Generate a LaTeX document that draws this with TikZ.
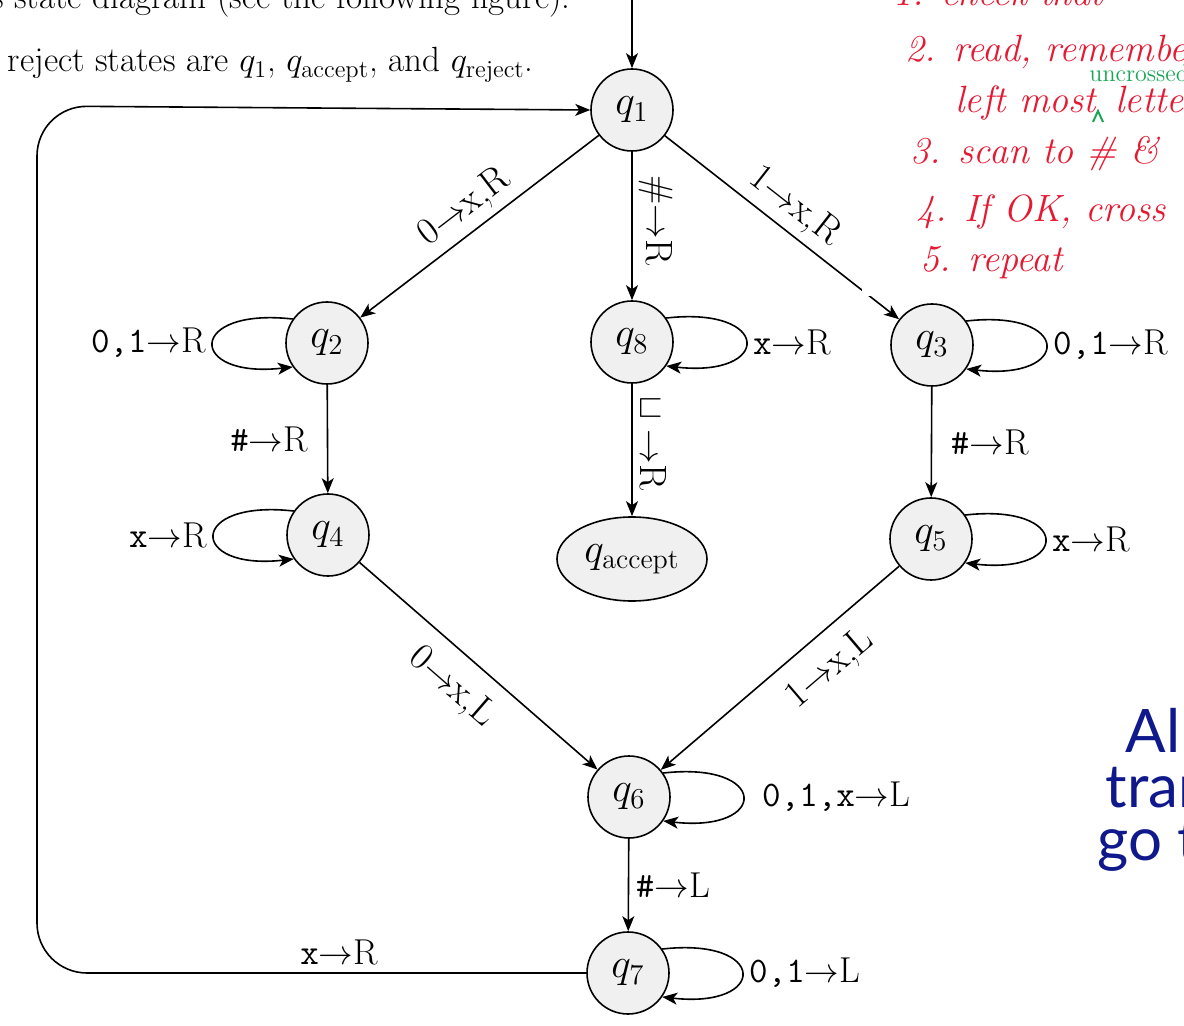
\documentclass[tikz,border=0pt]{standalone}
\usepackage{fontspec}
\newfontfamily\slidefont{Lato}
\usetikzlibrary{arrows.meta,shapes.geometric}
\definecolor{penred}{RGB}{230,25,50}
\definecolor{pengreen}{RGB}{25,165,85}
\definecolor{slideblue}{RGB}{15,25,140}
\newcommand{\tlab}[2]{\texttt{#1}$\rightarrow$#2}

\begin{document}
\begin{tikzpicture}[x=0.5pt, y=-0.5pt, line width=0.8pt,
    >={Stealth[length=7.5pt,width=6pt,inset=2pt]},
    every node/.style={font=\fontsize{18}{21}\selectfont},
    state/.style={circle, draw, fill=gray!12, minimum size=41pt, inner sep=0pt,
      font=\fontsize{20}{22}\selectfont},
    slant/.style={sloped, font=\fontsize{19}{22}\selectfont},
    booktext/.style={anchor=base east, font=\fontsize{17.5}{20}\selectfont},
    note/.style={anchor=base west, text=penred, font=\fontsize{19}{22}\selectfont\itshape},
    slide/.style={anchor=base west, text=slideblue, font=\fontsize{30}{34}\slidefont}
]
\useasboundingbox (0,0) rectangle (1184,1026);
\def\lp{106}

% text of the book page
\node[booktext] (line1) at (578,9) {its state diagram (see the following figure).};
\node[booktext] (line2) at (541,72) {and reject states are $q_1$, $q_{\mathrm{accept}}$, and $q_{\mathrm{reject}}$.};

% states
\node[state] (q1) at (632,110) {$q_1$};
\node[state] (q2) at (327,343) {$q_2$};
\node[state] (q8) at (632,342) {$q_8$};
\node[state] (q3) at (932,345) {$q_3$};
\node[state] (q4) at (328,535) {$q_4$};
\node[state, ellipse, minimum width=75pt, minimum height=42pt] (qacc) at (632,559) {$q_{\mathrm{accept}}$};
\node[state] (q5) at (931,539) {$q_5$};
\node[state] (q6) at (629,797) {$q_6$};
\node[state] (q7) at (628,973) {$q_7$};

\coordinate (start) at (632,-4);
\coordinate (cbl) at (37,973);
\coordinate (ctl) at (37,106);

% transitions
\draw[->] (start) -- (q1);
\draw[->] (q1) -- node[slant, above, pos=0.5] {0$\rightarrow$x,R} (q2);
\draw[->] (q1) -- node[rotate=-90, anchor=south, pos=0.46, font=\fontsize{19}{22}\selectfont] {\#$\rightarrow$R} (q8);
\draw[->] (q1) -- node[slant, above, pos=0.49] {1$\rightarrow$x,R} (q3);
\draw[->] (q2) -- node[left=6pt] {\tlab{\#}{R}} (q4);
\draw[->] (q8) -- node[rotate=-90, anchor=south, pos=0.45, font=\fontsize{19}{22}\selectfont] {$\sqcup\rightarrow$R} (qacc);
\draw[->] (q3) -- node[right=6pt] {\tlab{\#}{R}} (q5);
\draw[->] (q4) -- node[slant, below, pos=0.48, inner sep=8pt] {0$\rightarrow$x,L} (q6);
\draw[->] (q5) -- node[slant, below, pos=0.38, inner sep=8pt] {1$\rightarrow$x,L} (q6);
\draw[->] (q6) -- node[right] {\tlab{\#}{L}} (q7);
\draw[->, rounded corners=25pt] (q7.west) -- node[above, pos=0.45] {\tlab{x}{R}} (cbl) -- (ctl) -- (q1.west);

% self loops
\draw[->] (q2.145) .. controls +(-\lp,-12) and +(-\lp,12) .. (q2.215) node[pos=0.5, left] {\tlab{0,1}{R}};
\draw[->] (q4.145) .. controls +(-\lp,-12) and +(-\lp,12) .. (q4.215) node[pos=0.5, left] {\tlab{x}{R}};
\draw[->] (q8.35) .. controls +(\lp,-12) and +(\lp,12) .. (q8.-35) node[pos=0.5, right] {\tlab{x}{R}};
\draw[->] (q3.35) .. controls +(\lp,-12) and +(\lp,12) .. (q3.-35) node[pos=0.5, right] {\tlab{0,1}{R}};
\draw[->] (q5.35) .. controls +(\lp,-12) and +(\lp,12) .. (q5.-35) node[pos=0.5, right] {\tlab{x}{R}};
\draw[->] (q6.35) .. controls +(\lp,-12) and +(\lp,12) .. (q6.-35) node[pos=0.5, right=6pt] {\tlab{0,1,x}{L}};
\draw[->] (q7.35) .. controls +(\lp,-12) and +(\lp,12) .. (q7.-35) node[pos=0.5, right] {\tlab{0,1}{L}};

% handwritten notes
\fill[white] (862,-2) rectangle (1186,296);
\node[note] (n1) at (886,6) {1. check that};
\node[note] (n2) at (898,62) {2. read, remember};
\node[note] (n3) at (948,113) {left most};
\node[note] (n3b) at (1108,113) {letter};
\node[anchor=base west, text=pengreen, font=\fontsize{12}{14}\selectfont] (n3a) at (1082,82) {uncrossed};
\draw[pengreen, line width=1pt] (1093,122) -- (1098,111) -- (1103,122);
\node[note] (n4) at (903,164) {3. scan to \# \&};
\node[note] (n5) at (909,222) {4. If OK, cross};
\node[note] (n6) at (913,272) {5. repeat};

% slide text
\node[slide] (s1) at (1118,752) {All other};
\node[slide] (s2) at (1098,807) {transitions};
\node[slide] (s3) at (1090,860) {go to reject};
\end{tikzpicture}
\end{document}
